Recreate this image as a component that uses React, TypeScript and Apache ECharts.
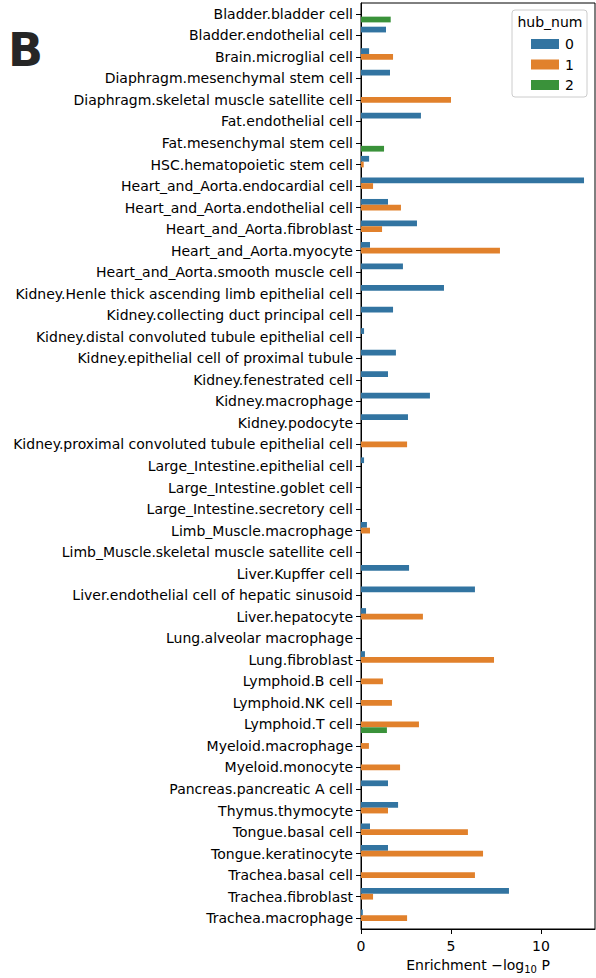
import React, { useEffect, useRef } from "react";
import * as echarts from "echarts";

const cellTypes: string[] = [
  "Bladder.bladder cell",
  "Bladder.endothelial cell",
  "Brain.microglial cell",
  "Diaphragm.mesenchymal stem cell",
  "Diaphragm.skeletal muscle satellite cell",
  "Fat.endothelial cell",
  "Fat.mesenchymal stem cell",
  "HSC.hematopoietic stem cell",
  "Heart_and_Aorta.endocardial cell",
  "Heart_and_Aorta.endothelial cell",
  "Heart_and_Aorta.fibroblast",
  "Heart_and_Aorta.myocyte",
  "Heart_and_Aorta.smooth muscle cell",
  "Kidney.Henle thick ascending limb epithelial cell",
  "Kidney.collecting duct principal cell",
  "Kidney.distal convoluted tubule epithelial cell",
  "Kidney.epithelial cell of proximal tubule",
  "Kidney.fenestrated cell",
  "Kidney.macrophage",
  "Kidney.podocyte",
  "Kidney.proximal convoluted tubule epithelial cell",
  "Large_Intestine.epithelial cell",
  "Large_Intestine.goblet cell",
  "Large_Intestine.secretory cell",
  "Limb_Muscle.macrophage",
  "Limb_Muscle.skeletal muscle satellite cell",
  "Liver.Kupffer cell",
  "Liver.endothelial cell of hepatic sinusoid",
  "Liver.hepatocyte",
  "Lung.alveolar macrophage",
  "Lung.fibroblast",
  "Lymphoid.B cell",
  "Lymphoid.NK cell",
  "Lymphoid.T cell",
  "Myeloid.macrophage",
  "Myeloid.monocyte",
  "Pancreas.pancreatic A cell",
  "Thymus.thymocyte",
  "Tongue.basal cell",
  "Tongue.keratinocyte",
  "Trachea.basal cell",
  "Trachea.fibroblast",
  "Trachea.macrophage",
];

// Enrichment -log10 P per cell type, one array per hub_num level
const hub0: number[] = [
  0, 1.39, 0.45, 1.61, 0, 3.33, 0, 0.45, 12.39, 1.5, 3.11, 0.5, 2.33, 4.61,
  1.78, 0.17, 1.94, 1.5, 3.83, 2.61, 0, 0.17, 0, 0, 0.33, 0, 2.67, 6.33, 0.28,
  0, 0.22, 0, 0, 0, 0, 0, 1.5, 2.06, 0.5, 1.5, 0, 8.22, 0.1,
];
const hub1: number[] = [
  0, 0, 1.78, 0, 5.0, 0, 0, 0.15, 0.67, 2.22, 1.17, 7.72, 0, 0, 0, 0, 0, 0, 0,
  0, 2.56, 0, 0, 0, 0.5, 0, 0, 0, 3.44, 0, 7.39, 1.22, 1.72, 3.22, 0.44, 2.17,
  0, 1.5, 5.94, 6.78, 6.33, 0.67, 2.56,
];
const hub2: number[] = [
  1.65, 0, 0, 0, 0, 0, 1.28, 0, 0, 0, 0, 0, 0, 0, 0, 0, 0, 0, 0, 0, 0, 0, 0, 0,
  0, 0, 0, 0, 0, 0, 0, 0, 0, 1.44, 0, 0, 0, 0, 0, 0, 0, 0, 0,
];

const hubLevels: string[] = ["0", "1", "2"];
const xTicks: number[] = [0, 5, 10];

const palette = ["#3274a1", "#e1812c", "#3a923a"];
const FONT = "DejaVu Sans";

export default function App() {
  const ref = useRef<HTMLDivElement>(null);

  useEffect(() => {
    if (!ref.current) return;
    const chart = echarts.init(ref.current, undefined, { renderer: "svg" });
    const seriesData = [hub0, hub1, hub2];

    chart.setOption({
      animation: false,
      backgroundColor: "#fff",
      textStyle: { fontFamily: FONT },
      grid: {
        left: 361,
        top: 3,
        right: 1,
        bottom: 49,
        containLabel: false,
        outerBoundsMode: "none",
        show: true,
        borderColor: "#000",
        borderWidth: 1,
        backgroundColor: "transparent",
      },
      xAxis: {
        type: "value",
        min: 0,
        max: 13,
        interval: 5,
        splitLine: { show: false },
        axisLine: { show: true, lineStyle: { color: "#000", width: 1 } },
        axisTick: {
          show: true,
          length: 5,
          lineStyle: { color: "#000", width: 1 },
          customValues: xTicks,
        },
        axisLabel: {
          color: "#000",
          fontSize: 14,
          fontFamily: FONT,
          margin: 10,
          customValues: xTicks,
        },
        name: "Enrichment \u2212log{sub|10} P",
        nameLocation: "middle",
        nameGap: 26,
        nameTextStyle: {
          color: "#000",
          fontSize: 14,
          fontFamily: FONT,
          rich: {
            sub: { fontSize: 10, fontFamily: FONT, color: "#000", padding: [9, 0, 0, 0] },
          },
        },
      },
      yAxis: {
        type: "category",
        inverse: true,
        data: cellTypes,
        axisLine: { show: true, lineStyle: { color: "#000", width: 1 } },
        axisTick: {
          show: true,
          alignWithLabel: true,
          length: 5,
          lineStyle: { color: "#000", width: 1 },
        },
        axisLabel: {
          color: "#000",
          fontSize: 14,
          fontFamily: FONT,
          margin: 8,
          interval: 0,
        },
        splitLine: { show: false },
      },
      legend: {
        data: hubLevels,
        orient: "vertical",
        left: 526,
        top: 32,
        itemWidth: 28,
        itemHeight: 10,
        itemGap: 6.5,
        icon: "rect",
        textStyle: {
          color: "#000",
          fontSize: 14,
          fontFamily: FONT,
          lineHeight: 14,
          padding: [0, 0, 0, 1],
        },
        selectedMode: false,
      },
      graphic: [
        {
          type: "rect",
          z: 0,
          shape: { x: 512, y: 10, width: 75, height: 87, r: 3 },
          style: { fill: "rgba(255,255,255,0.8)", stroke: "#cccccc", lineWidth: 1 },
        },
        {
          type: "text",
          z: 1,
          style: {
            text: "hub_num",
            x: 550,
            y: 22,
            align: "center",
            verticalAlign: "middle",
            font: `14px ${FONT}`,
            fill: "#000",
          },
        },
        {
          type: "text",
          z: 1,
          style: {
            text: "B",
            x: 8,
            y: 50,
            align: "left",
            verticalAlign: "middle",
            font: `bold 46px ${FONT}`,
            fill: "#262626",
          },
        },
      ],
      series: seriesData.map((values, i) => ({
        name: hubLevels[i],
        type: "bar",
        data: values,
        barGap: "0%",
        barCategoryGap: "20%",
        itemStyle: { color: palette[i] },
        emphasis: { disabled: true },
      })),
    });

    return () => chart.dispose();
  }, []);

  return (
    <div
      ref={ref}
      style={{ position: "absolute", left: 0, top: 0, width: 596, height: 978 }}
    />
  );
}
